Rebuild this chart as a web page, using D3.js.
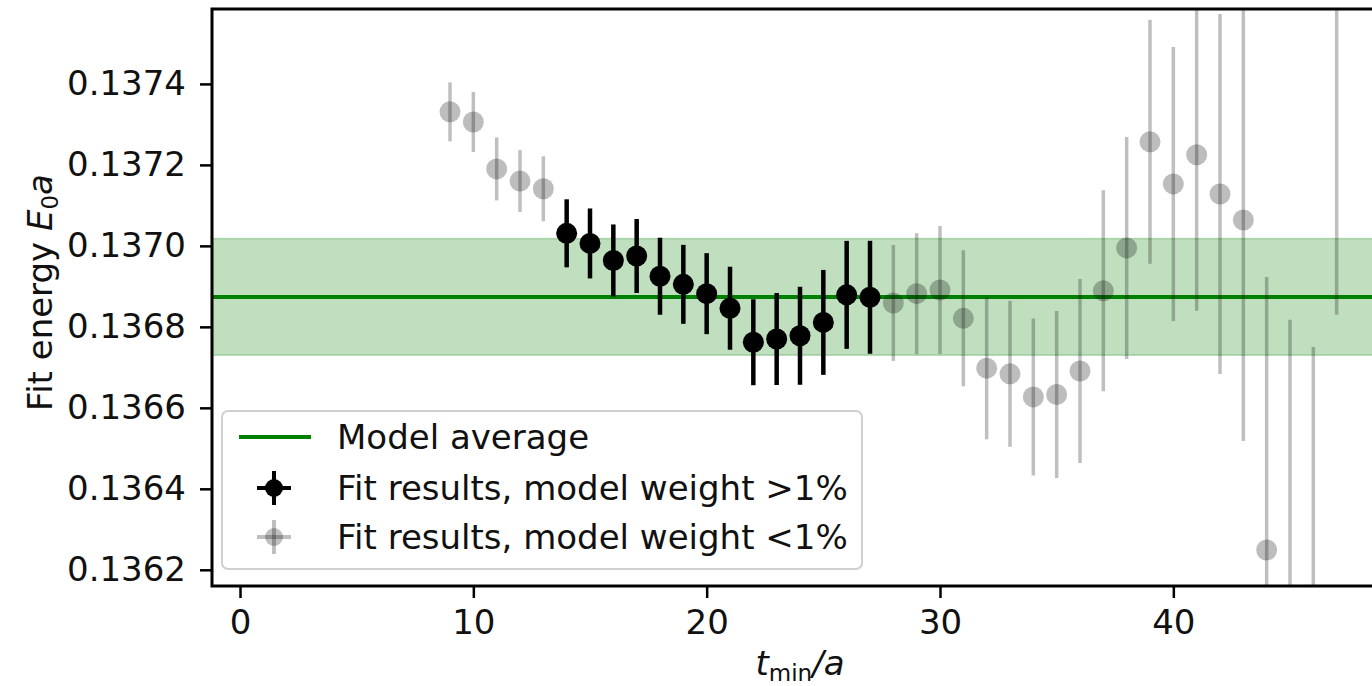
<!DOCTYPE html>
<html>
<head>
<meta charset="utf-8">
<script src="https://cdn.jsdelivr.net/npm/d3@7"></script>
<style>
  body { margin: 0; background: #fff; }
  text { font-family: "DejaVu Sans", sans-serif; }
</style>
</head>
<body>
<div id="chart"></div>
<script>
// fit results: tmin, energy, error
const tmin = [9, 10, 11, 12, 13, 14, 15, 16, 17, 18, 19, 20, 21, 22, 23, 24, 25, 26, 27,
              28, 29, 30, 31, 32, 33, 34, 35, 36, 37, 38, 39, 40, 41, 42, 43, 44, 45, 46, 47];
const energy = [0.137331, 0.137306, 0.137190, 0.137160, 0.137141,
                0.137031, 0.137006, 0.136964, 0.136975, 0.136925, 0.136905, 0.136882, 0.136846,
                0.136762, 0.136770, 0.136778, 0.136811, 0.136879, 0.136873,
                0.136859, 0.136882, 0.136891, 0.136821, 0.136698, 0.136684, 0.136627, 0.136633,
                0.136691, 0.136889, 0.136995, 0.137257, 0.137153, 0.137225, 0.137128, 0.137064,
                0.136249, 0.136052, 0.135953, 0.137657];
const energyErr = [0.0000728, 0.0000741, 0.0000778, 0.0000765, 0.0000802,
                   0.0000840, 0.0000864, 0.0000889, 0.0000914, 0.0000951, 0.0000975, 0.0001000, 0.0001025,
                   0.0001062, 0.0001136, 0.0001210, 0.0001296, 0.0001333, 0.0001395,
                   0.0001432, 0.0001494, 0.0001580, 0.0001679, 0.0001753, 0.0001802, 0.0001938, 0.0002062,
                   0.0002272, 0.0002481, 0.0002741, 0.0003012, 0.0003383, 0.0003852, 0.0004444, 0.0005457,
                   0.0006741, 0.0007654, 0.0007975, 0.0008272];
// weight > 1% for tmin 14..27
const highWeight = tmin.map(t => t >= 14 && t <= 27);

const modelAvg = 0.136874;
const modelErr = 0.000144;

const yTicks = [0.1362, 0.1364, 0.1366, 0.1368, 0.1370, 0.1372, 0.1374];
const xTicks = [0, 10, 20, 30, 40];
const legendLabels = ["Model average", "Fit results, model weight >1%", "Fit results, model weight <1%"];

const data = tmin.map((t, i) => ({ t: t, e: energy[i], err: energyErr[i], high: highWeight[i] }));

const W = 1372, H = 686;
const margin = { top: 9, left: 212, right: -16, bottom: 100 };
const plotW = W - margin.left - margin.right,
      plotH = H - margin.top - margin.bottom;
const fs = 34;

const svg = d3.select("#chart").append("svg")
  .attr("width", W)
  .attr("height", H);

const g = svg.append("g").attr("transform", `translate(${margin.left},${margin.top})`);

const x = d3.scaleLinear().domain([-1.2, 49.2]).range([0, plotW]);
const y = d3.scaleLinear().domain([0.13616, 0.137585]).range([plotH, 0]);

g.append("clipPath").attr("id", "clip")
  .append("rect").attr("width", plotW).attr("height", plotH);

const plot = g.append("g").attr("clip-path", "url(#clip)");

// model average band + line
plot.append("rect")
  .attr("x", 0).attr("width", plotW)
  .attr("y", y(modelAvg + modelErr))
  .attr("height", y(modelAvg - modelErr) - y(modelAvg + modelErr))
  .attr("fill", "green").attr("fill-opacity", 0.25)
  .attr("stroke", "green").attr("stroke-opacity", 0.25).attr("stroke-width", 1.5);

plot.append("line")
  .attr("x1", 0).attr("x2", plotW)
  .attr("y1", y(modelAvg)).attr("y2", y(modelAvg))
  .attr("stroke", "green").attr("stroke-width", 4);

const pts = plot.selectAll("g.pt")
  .data(data)
  .enter().append("g").attr("class", "pt");

pts.append("line")
  .attr("x1", d => x(d.t)).attr("x2", d => x(d.t))
  .attr("y1", d => y(d.e - d.err)).attr("y2", d => y(d.e + d.err))
  .attr("stroke", "black")
  .attr("stroke-opacity", d => d.high ? 1 : 0.25)
  .attr("stroke-width", d => d.high ? 4.5 : 3.5);

pts.append("circle")
  .attr("cx", d => x(d.t)).attr("cy", d => y(d.e))
  .attr("r", 10.5)
  .attr("fill", "black")
  .attr("fill-opacity", d => d.high ? 1 : 0.26);

// axes
const yAxis = g.append("g")
  .call(d3.axisLeft(y).tickValues(yTicks).tickFormat(d3.format(".4f")).tickSize(12).tickPadding(14));
const xAxis = g.append("g")
  .attr("transform", `translate(0,${plotH})`)
  .call(d3.axisBottom(x).tickValues(xTicks).tickSize(12).tickPadding(12));

[yAxis, xAxis].forEach(a => {
  a.select(".domain").remove();
  a.selectAll(".tick line").attr("stroke", "black").attr("stroke-width", 2.5);
  a.selectAll(".tick text").attr("font-size", fs).attr("fill", "#111")
    .attr("font-family", "DejaVu Sans");
});

// frame
g.append("rect")
  .attr("width", plotW).attr("height", plotH)
  .attr("fill", "none").attr("stroke", "black").attr("stroke-width", 3);

// axis labels
const yl = svg.append("text")
  .attr("transform", `translate(52,${margin.top + plotH / 2 - 5}) rotate(-90)`)
  .attr("text-anchor", "middle")
  .attr("font-size", fs).attr("fill", "#111");
yl.append("tspan").text("Fit energy ");
yl.append("tspan").attr("font-style", "italic").text("E");
yl.append("tspan").attr("font-size", 23).attr("dy", 6).text("0");
yl.append("tspan").attr("font-style", "italic").attr("dy", -6).text("a");

const xl = svg.append("text")
  .attr("x", margin.left + plotW / 2).attr("y", 675)
  .attr("text-anchor", "middle")
  .attr("font-size", fs).attr("fill", "#111");
xl.append("tspan").attr("font-style", "italic").text("t");
xl.append("tspan").attr("font-size", 23).attr("dy", 6).text("min");
xl.append("tspan").attr("font-style", "italic").attr("dy", -6).text("/a");

// legend
const leg = svg.append("g").attr("transform", "translate(222,411)");
leg.append("rect")
  .attr("width", 640).attr("height", 158).attr("rx", 6)
  .attr("fill", "white").attr("fill-opacity", 0.8)
  .attr("stroke", "#d0d0d0").attr("stroke-width", 2);

const rowY = [26, 77, 126];
leg.append("line")
  .attr("x1", 17).attr("x2", 89).attr("y1", rowY[0]).attr("y2", rowY[0])
  .attr("stroke", "green").attr("stroke-width", 4);

[1, 2].forEach(i => {
  const a = i === 1 ? 1 : 0.25;
  const m = leg.append("g").attr("transform", `translate(52,${rowY[i]})`);
  m.append("line").attr("y1", -17).attr("y2", 17).attr("stroke", "black").attr("stroke-width", 4).attr("stroke-opacity", a);
  m.append("line").attr("x1", -17).attr("x2", 17).attr("stroke", "black").attr("stroke-width", 4).attr("stroke-opacity", a);
  m.append("circle").attr("r", 9).attr("fill", "black").attr("fill-opacity", a);
});

leg.selectAll("text.lab")
  .data(legendLabels)
  .enter().append("text").attr("class", "lab")
  .attr("x", 115).attr("y", (d, i) => rowY[i] + 12)
  .attr("font-size", fs).attr("fill", "#111")
  .text(d => d);
</script>
</body>
</html>
